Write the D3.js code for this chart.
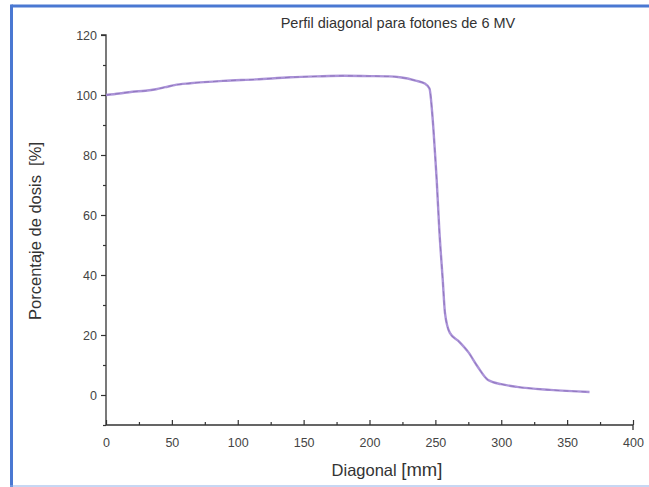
<!DOCTYPE html>
<html><head><meta charset="utf-8">
<script src="https://cdn.jsdelivr.net/npm/d3@7"></script>
<style>body{margin:0;background:#fff}svg{display:block}</style>
</head><body>
<script>
const diagonal = [0, 10, 20, 30, 38, 45, 52, 64, 89, 114, 140, 160, 180, 200, 215, 223, 235, 242, 245.5, 248, 249.7, 251, 253, 255.6, 257.3, 261, 268, 275, 282, 290, 300, 312, 337, 367];
const dosis = [100, 100.5, 101.1, 101.4, 101.9, 102.6, 103.3, 103.9, 104.7, 105.2, 105.9, 106.2, 106.4, 106.3, 106.2, 105.9, 104.8, 103.8, 102.2, 91.7, 80.7, 71.7, 55, 38.3, 27.3, 20.7, 17.8, 14.3, 9.5, 5, 3.6, 2.7, 1.7, 1.0];
const xTicks = [0, 50, 100, 150, 200, 250, 300, 350, 400];
const yTicks = [0, 20, 40, 60, 80, 100, 120];
const titleText = "Perfil diagonal para fotones de 6 MV";
const xTitle = "Diagonal";
const xUnit = "[mm]";
const yTitle = "Porcentaje de dosis  [%]";

const W = 649, H = 487;
const svg = d3.select("body").append("svg").attr("width", W).attr("height", H);
const font = "'Liberation Sans', Arial, sans-serif";

// frame
svg.append("line").attr("x1", 11.5).attr("x2", W).attr("y1", 6).attr("y2", 6).attr("stroke", "#4a78d2").attr("stroke-width", 3);
svg.append("line").attr("x1", 11.5).attr("x2", 11.5).attr("y1", 4.5).attr("y2", H).attr("stroke", "#4a78d2").attr("stroke-width", 3);
svg.append("line").attr("x1", 10).attr("x2", W).attr("y1", 486).attr("y2", 486).attr("stroke", "#8fb0e8").attr("stroke-width", 1.2);

const x = d3.scaleLinear().domain([0, 400]).range([106, 633]);
const y = d3.scaleLinear().domain([-10, 120]).range([425, 35]);

const axisColor = "#333";
// x axis
const gx = svg.append("g").attr("transform", `translate(0,${y(-10)})`)
  .call(d3.axisBottom(x).tickValues(xTicks).tickSize(-5).tickPadding(13));
gx.selectAll(".tick text").attr("font-family", font).attr("font-size", 12.5).attr("fill", "#444");
const gxm = svg.append("g").attr("transform", `translate(0,${y(-10)})`)
  .call(d3.axisBottom(x).tickValues(d3.range(25, 400, 50)).tickSize(-3).tickFormat(""));
gxm.select(".domain").remove();
// y axis
const gy = svg.append("g").attr("transform", `translate(${x(0)},0)`)
  .call(d3.axisLeft(y).tickValues(yTicks).tickSize(5).tickPadding(4));
gy.selectAll(".tick text").attr("font-family", font).attr("font-size", 12.5).attr("fill", "#444");
const gym = svg.append("g").attr("transform", `translate(${x(0)},0)`)
  .call(d3.axisLeft(y).tickValues(d3.range(-10, 120, 20)).tickSize(3).tickFormat(""));
gym.select(".domain").remove();
[gx, gxm, gy, gym].forEach(g => {
  g.selectAll("path.domain").attr("stroke", axisColor).attr("stroke-width", 1.3);
  g.selectAll(".tick line").attr("stroke", axisColor).attr("stroke-width", 1.2);
});
gy.select("path.domain").attr("d", `M-5,${y(120)}H0V${y(-10)}`);
gx.select("path.domain").attr("d", `M${x(0)},0H${x(400)}V5`);

// line
const pts = diagonal.map((d, i) => [d, dosis[i]]);
const line = d3.line().x(d => x(d[0])).y(d => y(d[1])).curve(d3.curveMonotoneX);
svg.append("path").datum(pts).attr("d", line).attr("fill", "none")
  .attr("stroke", "#ab93d8").attr("stroke-width", 2.4).attr("stroke-linejoin", "round");
svg.append("path").datum(pts).attr("d", line).attr("fill", "none")
  .attr("stroke", "#7f64ad").attr("stroke-width", 1).attr("stroke-dasharray", "5,4").attr("opacity", 0.6);

// titles
svg.append("text").attr("x", 398).attr("y", 28).attr("text-anchor", "middle")
  .attr("font-family", font).attr("font-size", 14.5).attr("fill", "#333").text(titleText);
const xt = svg.append("text").attr("x", 387).attr("y", 476).attr("text-anchor", "middle")
  .attr("font-family", font).attr("font-size", 16.5).attr("fill", "#333");
xt.append("tspan").text(xTitle + " ");
xt.append("tspan").attr("font-size", 18.5).text(xUnit);
svg.append("text").attr("transform", `translate(41,${231}) rotate(-90)`).attr("text-anchor", "middle")
  .attr("font-family", font).attr("font-size", 16.5).attr("fill", "#333").attr("xml:space", "preserve")
  .style("white-space", "pre").text(yTitle);
</script>
</body></html>
